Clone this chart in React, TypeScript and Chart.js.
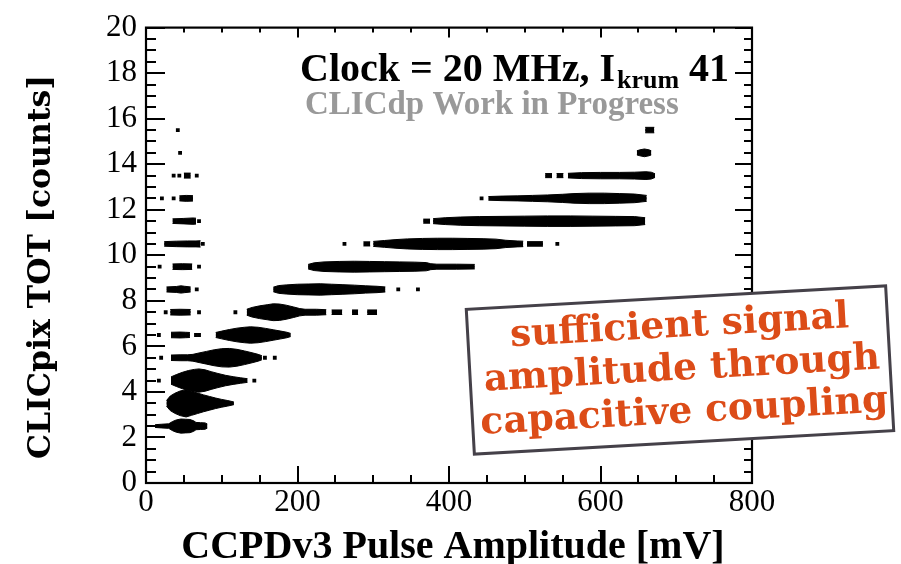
import React, { useEffect, useRef } from 'react';
import { Chart, registerables } from 'chart.js';

Chart.register(...registerables);

type Piece = [number, number][]; // [pulse amplitude mV, half-thickness in TOT units]

// TOT levels (band centres)
const totLevels = [2.5, 3.5, 4.5, 5.5, 6.5, 7.5, 8.5, 9.5, 10.5, 11.5, 12.5, 13.5, 14.5, 15.5];

const band2_5: Piece[] = [
  [[12, 0.06], [20, 0.08], [30, 0.1], [35, 0.2], [40, 0.27], [46, 0.31], [52, 0.3], [58, 0.29], [63, 0.23], [66, 0.16], [72, 0.15], [78, 0.14], [81, 0.09]],
];
const band3_5: Piece[] = [
  [[27, 0.12], [32, 0.32], [38, 0.44], [45, 0.54], [53, 0.6], [60, 0.53], [68, 0.45], [76, 0.37], [84, 0.3], [92, 0.23], [100, 0.17], [108, 0.12], [116, 0.06]],
];
const band4_5: Piece[] = [
  [[33, 0.16], [40, 0.26], [48, 0.36], [56, 0.44], [64, 0.49], [70, 0.51], [78, 0.47], [86, 0.39], [95, 0.31], [105, 0.23], [115, 0.17], [125, 0.12], [134, 0.08]],
];
const band5_5: Piece[] = [
  [[33, 0.12], [45, 0.13], [55, 0.13], [62, 0.15], [70, 0.21], [80, 0.28], [90, 0.35], [100, 0.4], [110, 0.41], [120, 0.37], [130, 0.3], [140, 0.22], [148, 0.15], [153, 0.09]],
];
const band6_5: Piece[] = [
  [[33, 0.12], [45, 0.13], [52, 0.12], [58, 0.11]],
  [[92, 0.11], [100, 0.17], [110, 0.24], [120, 0.3], [130, 0.34], [138, 0.36], [148, 0.34], [158, 0.29], [168, 0.23], [178, 0.17], [186, 0.12], [191, 0.07]],
];
const band7_5: Piece[] = [
  [[32, 0.12], [45, 0.13], [59, 0.12]],
  [[133, 0.13], [140, 0.21], [150, 0.28], [160, 0.33], [168, 0.37], [176, 0.36], [185, 0.31], [195, 0.23], [203, 0.16], [210, 0.13], [225, 0.13], [238, 0.11]],
  [[245, 0.1], [259, 0.1]],
  [[272, 0.1], [280, 0.1]],
  [[292, 0.1], [305, 0.1]],
];
const band8_5: Piece[] = [
  [[27, 0.11], [40, 0.13], [46, 0.16], [51, 0.14], [59, 0.11]],
  [[168, 0.1], [175, 0.17], [185, 0.2], [200, 0.23], [215, 0.24], [230, 0.25], [245, 0.23], [260, 0.21], [275, 0.19], [290, 0.16], [305, 0.14], [316, 0.11]],
];
const band9_5: Piece[] = [
  [[35, 0.12], [48, 0.13], [61, 0.12]],
  [[214, 0.1], [222, 0.17], [235, 0.21], [255, 0.23], [275, 0.24], [295, 0.23], [315, 0.22], [335, 0.21], [355, 0.2], [370, 0.18], [376, 0.13], [384, 0.11], [410, 0.11], [434, 0.1]],
];
const band10_5: Piece[] = [
  [[24, 0.1], [40, 0.12], [55, 0.13], [66, 0.13], [72, 0.14]],
  [[287, 0.09], [296, 0.09]],
  [[300, 0.11], [315, 0.15], [330, 0.19], [345, 0.22], [365, 0.24], [385, 0.25], [405, 0.25], [425, 0.24], [445, 0.23], [462, 0.21], [475, 0.16], [490, 0.13], [498, 0.12]],
  [[503, 0.1], [524, 0.1]],
];
const band11_5: Piece[] = [
  [[35, 0.1], [50, 0.12], [62, 0.14], [66, 0.13]],
  [[366, 0.09], [375, 0.09]],
  [[379, 0.11], [395, 0.15], [415, 0.18], [440, 0.2], [470, 0.21], [500, 0.22], [530, 0.23], [560, 0.23], [590, 0.22], [620, 0.21], [645, 0.2], [659, 0.15]],
];
const band12_5: Piece[] = [
  [[44, 0.11], [53, 0.13], [62, 0.12]],
  [[452, 0.08], [470, 0.1], [490, 0.11], [510, 0.13], [530, 0.15], [550, 0.18], [565, 0.21], [585, 0.23], [605, 0.23], [625, 0.21], [645, 0.19], [661, 0.13]],
];
const band13_5: Piece[] = [
  [[50, 0.11], [59, 0.11]],
  [[527, 0.09], [536, 0.09]],
  [[542, 0.09], [551, 0.09]],
  [[557, 0.1], [575, 0.13], [600, 0.14], [625, 0.14], [645, 0.15], [660, 0.17], [667, 0.15], [672, 0.08]],
];
const band14_5: Piece[] = [
  [[648, 0.09], [652, 0.13], [658, 0.17], [664, 0.13], [667, 0.09]],
];
const band15_5: Piece[] = [
  [[659, 0.12], [671, 0.12]],
];

const bands: Piece[][] = [
  band2_5, band3_5, band4_5, band5_5, band6_5, band7_5, band8_5,
  band9_5, band10_5, band11_5, band12_5, band13_5, band14_5, band15_5,
];

// isolated entries [mV, TOT]
const isolatedDots: [number, number][] = [
  [17, 4.5], [143, 4.5],
  [20, 5.5], [157, 5.5], [170, 5.5],
  [17, 6.5], [66, 6.5], [70, 6.5],
  [26, 7.5], [70, 7.5], [118, 7.5],
  [67, 8.5], [333, 8.5], [359, 8.5],
  [18, 9.5], [70, 9.5],
  [75, 10.5], [262, 10.5], [543, 10.5],
  [70, 11.5],
  [21, 12.5], [36.5, 12.5], [443, 12.5],
  [36.5, 13.5], [44, 13.5], [67, 13.5],
  [45, 14.5],
  [42, 15.5],
];

// white gap seen through the TOT = 3.5 band
const whiteMark: [number, number][] = [[54, 3.1], [54, 3.9]];

const xRange = [0, 800];
const yRange = [0, 20];
const xMajorStep = 200;
const xMinorStep = 50;
const yMajorStep = 2;
const yMinorStep = 0.5;

const xTitle = 'CCPDv3 Pulse Amplitude [mV]';
const yTitle = 'CLICpix TOT [counts]';
const titleMain = 'Clock = 20 MHz, I';
const titleSub = 'krum';
const titleTail = ' 41';
const workLabel = 'CLICdp Work in Progress';
const noteLines = ['sufficient signal', 'amplitude through', 'capacitive coupling'];

const decorPlugin = {
  id: 'decor',
  afterDraw(chart: any) {
    const { ctx, chartArea: a } = chart;
    const xs = chart.scales.x;
    const ys = chart.scales.y;
    ctx.save();
    ctx.strokeStyle = '#000';
    ctx.lineCap = 'butt';
    for (let v = xRange[0]; v <= xRange[1] + 1e-6; v += xMinorStep) {
      const px = Math.round(xs.getPixelForValue(v));
      const major = Math.abs(v % xMajorStep) < 1e-6;
      ctx.lineWidth = 2;
      ctx.beginPath();
      ctx.moveTo(px, a.bottom);
      ctx.lineTo(px, a.bottom - (major ? 17 : 8));
      ctx.moveTo(px, a.top);
      ctx.lineTo(px, a.top + (major ? 10 : 5));
      ctx.stroke();
    }
    for (let v = yRange[0]; v <= yRange[1] + 1e-6; v += yMinorStep) {
      const py = Math.round(ys.getPixelForValue(v));
      const major = Math.abs(v % yMajorStep) < 1e-6;
      ctx.lineWidth = 2;
      ctx.beginPath();
      ctx.moveTo(a.left, py);
      ctx.lineTo(a.left + (major ? 19 : 10), py);
      ctx.moveTo(a.right, py);
      ctx.lineTo(a.right - (major ? 17 : 8), py);
      ctx.stroke();
    }
    ctx.lineWidth = 2.2;
    ctx.strokeRect(a.left, a.top, a.right - a.left, a.bottom - a.top);

    // axis titles
    ctx.fillStyle = '#000';
    ctx.textAlign = 'center';
    ctx.textBaseline = 'alphabetic';
    ctx.font = 'bold 40px "Liberation Serif"';
    ctx.fillText(xTitle, 453, 558);
    ctx.save();
    ctx.translate(50, 267);
    ctx.rotate(-Math.PI / 2);
    ctx.font = 'bold 31.5px "DejaVu Serif"';
    ctx.fillText(yTitle, 0, 0);
    ctx.restore();

    // in-plot labels
    ctx.textAlign = 'left';
    ctx.font = 'bold 40px "Liberation Serif"';
    let tx = 300;
    ctx.fillText(titleMain, tx, 81);
    tx += ctx.measureText(titleMain).width + 2;
    ctx.font = 'bold 26px "Liberation Serif"';
    ctx.fillText(titleSub, tx, 88);
    tx += ctx.measureText(titleSub).width;
    ctx.font = 'bold 40px "Liberation Serif"';
    ctx.fillText(titleTail, tx, 81);

    ctx.fillStyle = '#999999';
    ctx.font = 'bold 33px "Liberation Serif"';
    ctx.fillText(workLabel, 305, 114);

    // annotation box
    ctx.translate(680, 370);
    ctx.rotate((-3.2 * Math.PI) / 180);
    ctx.fillStyle = '#ffffff';
    ctx.fillRect(-210, -72.5, 420, 145);
    ctx.strokeStyle = '#454149';
    ctx.lineWidth = 3;
    ctx.strokeRect(-210, -72.5, 420, 145);
    ctx.fillStyle = '#DC4C18';
    ctx.font = 'bold 37.5px "DejaVu Serif"';
    ctx.textAlign = 'center';
    ctx.textBaseline = 'middle';
    noteLines.forEach((t, i) => ctx.fillText(t, 2, (i - 1) * 43));
    ctx.restore();
  },
};

export default function App() {
  const ref = useRef<HTMLCanvasElement | null>(null);
  useEffect(() => {
    document.body.style.margin = '0';
    const canvas = ref.current;
    if (!canvas) return;

    const datasets: any[] = [];
    bands.forEach((pieces, i) => {
      const yc = totLevels[i];
      const upper: any[] = [];
      const lower: any[] = [];
      pieces.forEach((p) => {
        p.forEach(([x, hw]) => {
          upper.push({ x, y: yc + hw });
          lower.push({ x, y: yc - hw });
        });
        const lastX = p[p.length - 1][0];
        upper.push({ x: lastX, y: null });
        lower.push({ x: lastX, y: null });
      });
      // each edge fills slightly past the band centre so the halves overlap
      [[upper, yc - 0.05], [lower, yc + 0.05]].forEach(([data, target]) => {
        datasets.push({
          data,
          showLine: true,
          fill: { value: target },
          backgroundColor: '#000',
          borderColor: '#000',
          borderWidth: 1,
          pointRadius: 0,
          tension: 0,
          spanGaps: false,
        });
      });
    });
    datasets.push({
      data: isolatedDots.map(([x, y]) => ({ x, y })),
      showLine: false,
      pointStyle: 'rect',
      pointRadius: 2.7,
      backgroundColor: '#000',
      borderWidth: 0,
    });
    datasets.push({
      data: whiteMark.map(([x, y]) => ({ x, y })),
      showLine: true,
      borderColor: '#ffffff',
      borderWidth: 1.5,
      pointRadius: 0,
      fill: false,
    });

    const chart = new Chart(canvas, {
      type: 'scatter',
      data: { datasets },
      plugins: [decorPlugin],
      options: {
        animation: false,
        responsive: false,
        events: [],
        layout: { padding: { left: 0, top: 22, right: 149, bottom: 0 } },
        plugins: { legend: { display: false }, tooltip: { enabled: false } },
        scales: {
          x: {
            type: 'linear',
            min: xRange[0],
            max: xRange[1],
            ticks: {
              stepSize: xMajorStep,
              autoSkip: false,
              maxRotation: 0,
              padding: 1,
              color: '#000',
              font: { family: 'Liberation Serif', size: 31 },
            },
            grid: { display: false, drawTicks: false },
            border: { display: false },
            title: { display: false },
            afterFit: (s: any) => { s.height = 81; },
          },
          y: {
            type: 'linear',
            min: yRange[0],
            max: yRange[1],
            ticks: {
              stepSize: yMajorStep,
              autoSkip: false,
              padding: 9,
              color: '#000',
              font: { family: 'Liberation Serif', size: 31 },
            },
            grid: { display: false, drawTicks: false },
            border: { display: false },
            title: { display: false },
            afterFit: (s: any) => { s.width = 146; },
          },
        },
      },
    });
    return () => chart.destroy();
  }, []);
  return <canvas ref={ref} width={901} height={564} style={{ display: 'block' }} />;
}
